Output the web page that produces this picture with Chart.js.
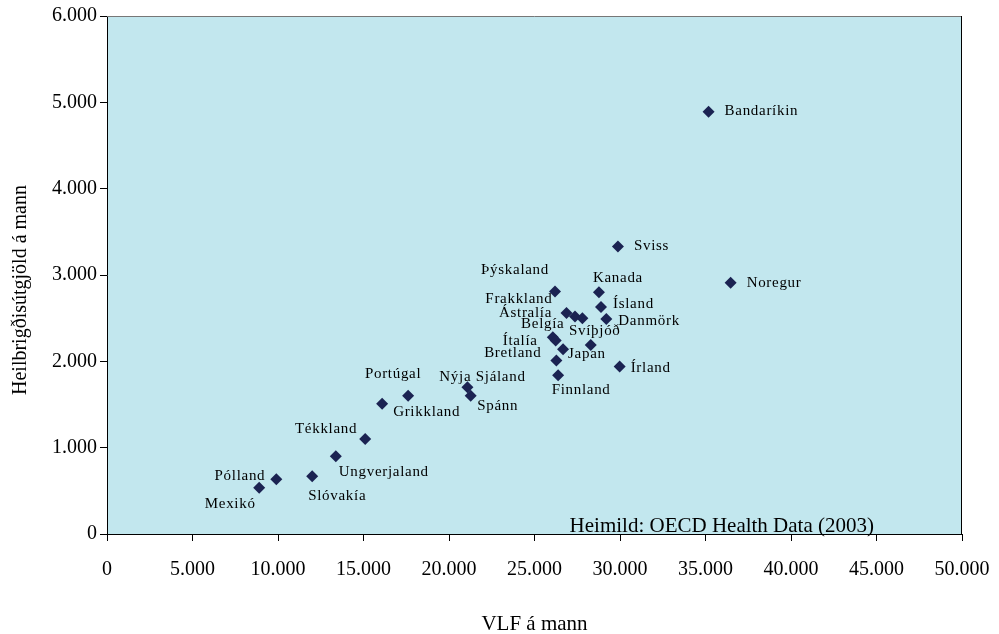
<!DOCTYPE html>
<html>
<head>
<meta charset="utf-8">
<script src="https://cdn.jsdelivr.net/npm/chart.js@4.4.1/dist/chart.umd.min.js"></script>
<style>
  html, body { margin: 0; padding: 0; background: #fff; }
  #wrap { width: 999px; height: 634px; }
</style>
</head>
<body>
<div id="wrap"><canvas id="healthChart"></canvas></div>
<script>
// VLF og heilbrigðisútgjöld á mann (USD, jafnvirðisgengi)
const countries = [
  'Bandaríkin', 'Noregur', 'Sviss', 'Þýskaland', 'Kanada', 'Ísland', 'Danmörk',
  'Frakkland', 'Ástralía', '', 'Belgía', 'Ítalía', 'Japan', 'Svíþjóð',
  'Bretland', 'Írland', 'Finnland', 'Nýja Sjáland', 'Spánn', 'Portúgal',
  'Grikkland', 'Tékkland', 'Ungverjaland', 'Slóvakía', 'Pólland', 'Mexikó'
];
const gdpPerCapita = [
  35180, 36470, 29880, 26200, 28770, 28890, 29200,
  26870, 27370, 27800, 26070, 26240, 26670, 28290,
  26280, 29980, 26380, 21080, 21270, 17610,
  16090, 15100, 13380, 12000, 9900, 8900
];
const healthPerCapita = [
  4890, 2910, 3330, 2810, 2800, 2630, 2490,
  2560, 2520, 2500, 2280, 2240, 2140, 2190,
  2010, 1940, 1840, 1700, 1600, 1600,
  1510, 1100, 900, 670, 635, 535
];
const xTickLabels = ['0', '5.000', '10.000', '15.000', '20.000', '25.000',
  '30.000', '35.000', '40.000', '45.000', '50.000'];
const yTickLabels = ['0', '1.000', '2.000', '3.000', '4.000', '5.000', '6.000'];

// hvar nafnið situr miðað við punktinn: [dx, dy, jöfnun]
const labelPlacement = {
  'Bandaríkin': [16, -1, 'left'],
  'Noregur': [16, 0, 'left'],
  'Sviss': [16, 0, 'left'],
  'Þýskaland': [-40, -21, 'center'],
  'Kanada': [19, -14, 'center'],
  'Ísland': [12, -3, 'left'],
  'Danmörk': [12, 2, 'left'],
  'Frakkland': [-14, -14, 'right'],
  'Ástralía': [-23, -3, 'right'],
  'Belgía': [-10, -13, 'center'],
  'Ítalía': [-18, 0, 'right'],
  'Japan': [5, 5, 'left'],
  'Svíþjóð': [4, -14, 'center'],
  'Bretland': [-15, -7, 'right'],
  'Írland': [11, 2, 'left'],
  'Finnland': [23, 15, 'center'],
  'Nýja Sjáland': [15, -10, 'center'],
  'Spánn': [27, 10, 'center'],
  'Portúgal': [-15, -22, 'center'],
  'Grikkland': [11, 8, 'left'],
  'Tékkland': [-8, -10, 'right'],
  'Ungverjaland': [48, 16, 'center'],
  'Slóvakía': [25, 20, 'center'],
  'Pólland': [-11, -3, 'right'],
  'Mexikó': [-29, 16, 'center']
};

const serif = '"Liberation Serif", "Times New Roman", serif';

// bakgrunnur og rammi um teiknisvæðið
const plotFrame = {
  id: 'plotFrame',
  beforeDraw(chart) {
    const { ctx, chartArea: a } = chart;
    ctx.save();
    ctx.fillStyle = '#C2E7EE';
    ctx.fillRect(a.left, a.top, a.right - a.left, a.bottom - a.top);
    ctx.restore();
  },
  afterDraw(chart) {
    const { ctx, chartArea: a } = chart;
    ctx.save();
    ctx.lineWidth = 1;
    ctx.strokeStyle = '#777';
    ctx.beginPath();
    ctx.moveTo(a.left, a.top + 0.5);
    ctx.lineTo(a.right, a.top + 0.5);
    ctx.stroke();
    ctx.strokeStyle = '#000';
    ctx.beginPath();
    ctx.moveTo(a.right - 0.5, a.top);
    ctx.lineTo(a.right - 0.5, a.bottom);
    ctx.stroke();

    ctx.fillStyle = '#000';
    // heimild neðst til hægri
    ctx.font = '21px ' + serif;
    ctx.textAlign = 'right';
    ctx.textBaseline = 'alphabetic';
    ctx.fillText('Heimild: OECD Health Data (2003)', a.right - 88, a.bottom - 2);

    // titill lóðrétta ássins, aðeins neðan við miðju
    ctx.font = '20px ' + serif;
    ctx.textAlign = 'center';
    ctx.textBaseline = 'middle';
    ctx.translate(21, (a.top + a.bottom) / 2 + 15);
    ctx.rotate(-Math.PI / 2);
    ctx.fillText('Heilbrigðisútgjöld á mann', 0, 0);
    ctx.restore();
  }
};

// nöfn landanna við punktana
const pointNames = {
  id: 'pointNames',
  afterDatasetsDraw(chart) {
    const ctx = chart.ctx;
    const meta = chart.getDatasetMeta(0);
    ctx.save();
    ctx.fillStyle = '#000';
    ctx.font = '15px ' + serif;
    ctx.letterSpacing = '0.7px';
    ctx.textBaseline = 'middle';
    meta.data.forEach((pt, i) => {
      const name = countries[i];
      const place = labelPlacement[name];
      if (!name || !place) return;
      ctx.textAlign = place[2];
      ctx.fillText(name, pt.x + place[0], pt.y + place[1]);
    });
    ctx.restore();
  }
};

const ctx = document.getElementById('healthChart').getContext('2d');

new Chart(ctx, {
  type: 'scatter',
  data: {
    datasets: [{
      data: gdpPerCapita.map((x, i) => ({ x: x, y: healthPerCapita[i] })),
      pointStyle: 'rectRot',
      pointRadius: 6,
      pointHoverRadius: 6,
      backgroundColor: '#1B2352',
      borderColor: '#1B2352',
      borderWidth: 0
    }]
  },
  options: {
    responsive: true,
    maintainAspectRatio: false,
    animation: false,
    events: [],
    layout: { autoPadding: false, padding: { left: 0, top: 16, right: 37, bottom: 0 } },
    plugins: {
      legend: { display: false },
      tooltip: { enabled: false }
    },
    scales: {
      x: {
        type: 'linear',
        min: 0,
        max: 50000,
        afterFit: (scale) => {
          scale.height = 100;
          // síðasti merkimiðinn má ná út fyrir teiknisvæðið
          scale.paddingLeft = 0;
          scale.paddingRight = 0;
        },
        ticks: {
          stepSize: 5000,
          padding: 17,
          color: '#000',
          font: { family: serif, size: 20 },
          callback: (v, i) => xTickLabels[i]
        },
        grid: { drawOnChartArea: false, tickLength: 7, color: '#000' },
        border: { display: true, color: '#000' },
        title: {
          display: true,
          text: 'VLF á mann',
          color: '#000',
          font: { family: serif, size: 21 },
          padding: { top: 0, bottom: -3 }
        }
      },
      y: {
        type: 'linear',
        min: 0,
        max: 6000,
        afterFit: (scale) => {
          scale.width = 107;
          scale.paddingTop = 0;
          scale.paddingBottom = 0;
        },
        ticks: {
          stepSize: 1000,
          padding: 3,
          color: '#000',
          font: { family: serif, size: 20 },
          callback: (v, i) => yTickLabels[i]
        },
        grid: { drawOnChartArea: false, tickLength: 7, color: '#000' },
        border: { display: true, color: '#000' }
      }
    }
  },
  plugins: [plotFrame, pointNames]
});
</script>
</body>
</html>
